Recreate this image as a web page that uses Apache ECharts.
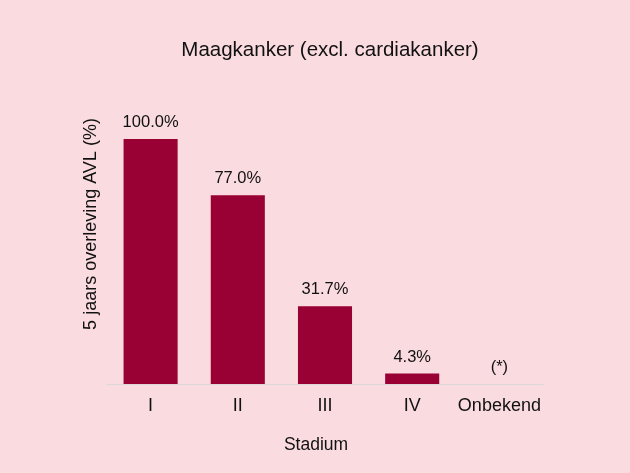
<!DOCTYPE html>
<html>
<head>
<meta charset="utf-8">
<script src="https://cdn.jsdelivr.net/npm/echarts@6/dist/echarts.min.js"></script>
<style>
html,body{margin:0;padding:0;background:#fadbe0;}
#chart{width:630px;height:473px;}
</style>
</head>
<body>
<div id="chart"></div>
<script>
var categories = ['I', 'II', 'III', 'IV', 'Onbekend'];
var values = [100.0, 77.0, 31.7, 4.3, 0];
var valueLabels = ['100.0%', '77.0%', '31.7%', '4.3%', '(*)'];
var titleText = 'Maagkanker (excl. cardiakanker)';
var yAxisTitle = '5 jaars overleving AVL (%)';
var xAxisTitle = 'Stadium';

var chart = echarts.init(document.getElementById('chart'));
var font = 'Helvetica, "Liberation Sans", Arial, sans-serif';
chart.setOption({
  backgroundColor: '#fadbe0',
  animation: false,
  title: {
    text: titleText,
    left: 325, top: 35, textAlign: 'center',
    textStyle: {fontFamily: font, fontSize: 20.5, fontWeight: 'normal', color: '#111'}
  },
  graphic: [{
    type: 'text',
    x: 91, y: 224,
    rotation: Math.PI / 2,
    style: {
      text: yAxisTitle,
      fontFamily: font, fontSize: 18, fill: '#111',
      align: 'center', verticalAlign: 'middle'
    }
  }],
  grid: {left: 107, right: 87, top: 139, bottom: 89},
  xAxis: {
    type: 'category',
    data: categories,
    name: xAxisTitle,
    nameLocation: 'middle',
    nameGap: 52,
    nameTextStyle: {fontFamily: font, fontSize: 17.5, color: '#111', padding: [0, 18, 0, 0]},
    axisLine: {lineStyle: {color: '#d9d9d9', width: 1}},
    axisTick: {show: false},
    axisLabel: {interval: 0, fontFamily: font, fontSize: 18, color: '#111', margin: 13}
  },
  yAxis: {
    type: 'value',
    min: 0, max: 100,
    axisLine: {show: false},
    axisTick: {show: false},
    axisLabel: {show: false},
    splitLine: {show: false}
  },
  series: [{
    type: 'bar',
    data: values,
    barWidth: '62%',
    itemStyle: {color: '#990033'},
    label: {
      show: true,
      position: 'top',
      distance: 8,
      fontFamily: font,
      fontSize: 16.5,
      color: '#111',
      formatter: function (p) { return valueLabels[p.dataIndex]; }
    }
  }]
});
</script>
</body>
</html>
